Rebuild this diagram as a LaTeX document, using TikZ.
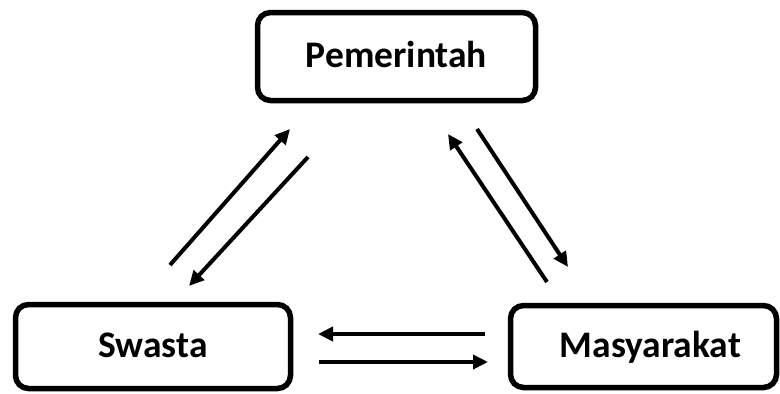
\documentclass[tikz,border=0pt]{standalone}
\usepackage{fontspec}
\setmainfont{Carlito}
\usetikzlibrary{arrows.meta}

\tikzset{
	box/.style={draw,line width=5.5pt,rounded corners=13pt,fill=white,
		font=\fontsize{37.5}{44}\selectfont\bfseries,text height=25pt,text depth=3pt},
	arr/.style={line width=4pt,-{Triangle[length=15pt,width=14pt]}}
}

\begin{document}
\begin{tikzpicture}[x=1pt,y=-1pt]
	\useasboundingbox (0,0) rectangle (780,394);
	%========
	%Boxes
	%========
	\node[box,minimum width=278pt,minimum height=88pt] (pem) at (396.5,56.5) {Pemerintah};
	\node[box,minimum width=275pt,minimum height=84pt] (swa) at (153,346.5) {Swasta};
	\node[box,minimum width=266pt,minimum height=82pt,
		label={[name=mastxt,font=\fontsize{37.5}{44}\selectfont\bfseries,text height=25pt,text depth=3pt,xshift=7pt]center:Masyarakat}] (mas) at (643.5,346.5) {};

	%========
	%Arrow ends
	%========
	\coordinate (swa-up) at (170,265);	%Swasta -> Pemerintah
	\coordinate (pem-dl) at (290,129);
	\coordinate (pem-ul) at (308,157);	%Pemerintah -> Swasta
	\coordinate (swa-dn) at (189,286);

	\coordinate (mas-up) at (547,282);	%Masyarakat -> Pemerintah
	\coordinate (pem-dr) at (448,134);
	\coordinate (pem-ur) at (477,129);	%Pemerintah -> Masyarakat
	\coordinate (mas-dn) at (568,267);

	\coordinate (mas-l) at (485,334);	%Masyarakat -> Swasta
	\coordinate (swa-r) at (318,334);
	\coordinate (swa-l) at (319,362);	%Swasta -> Masyarakat
	\coordinate (mas-r) at (488,362);

	%========
	%Arrows
	%========
	\draw[arr] (swa-up) -- (pem-dl);
	\draw[arr] (pem-ul) -- (swa-dn);
	
	\draw[arr] (mas-up) -- (pem-dr);
	\draw[arr] (pem-ur) -- (mas-dn);
	
	\draw[arr] (mas-l) -- (swa-r);
	\draw[arr] (swa-l) -- (mas-r);
\end{tikzpicture}
\end{document}
